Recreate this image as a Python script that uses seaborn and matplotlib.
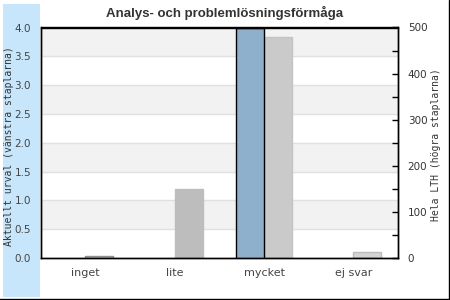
import matplotlib
matplotlib.use("Agg")
import matplotlib.pyplot as plt
import matplotlib.patches as mpatches
import matplotlib.lines as mlines
from matplotlib.ticker import MultipleLocator
import seaborn as sns
import pandas as pd

categories = ["inget", "lite", "mycket", "ej svar"]
aktuellt = [0, 0, 4, 0]
hela_lth = [4, 149, 480, 13]
series = ["Aktuellt urval", "Hela LTH"]
title = "Analys- och problemlösningsförmåga"
left_label = "Aktuellt urval (vänstra staplarna)"
right_label = "Hela LTH (högra staplarna)"

gray_colors = ["#c8c8c8", "#bdbdbd", "#cacaca", "#d4d4d4"]
gray_edges = ["#8f8f8f", "#bdbdbd", "#c4c4c4", "#bcbcbc"]

df_left = pd.DataFrame({"kategori": categories, "värde": aktuellt, "serie": series[0]})
df_right = pd.DataFrame({"kategori": categories, "värde": hela_lth, "serie": series[1]})

sns.set_theme(style="white")
plt.rcParams["font.family"] = ["DejaVu Sans"]

fig = plt.figure(figsize=(4.5, 3.0), dpi=100)
fig.patch.set_facecolor("white")

# blue band on the left
fig.patches.append(mpatches.Rectangle((3 / 450, 3 / 300), 37 / 450, 293 / 300,
                                      transform=fig.transFigure, facecolor="#c8e6fb",
                                      edgecolor="none", zorder=0))
# frame lines right and bottom
fig.lines.append(mlines.Line2D([448.5 / 450, 448.5 / 450], [1.5 / 300, 1], transform=fig.transFigure,
                               color="black", lw=1))
fig.lines.append(mlines.Line2D([0, 448.5 / 450], [1.5 / 300, 1.5 / 300], transform=fig.transFigure,
                               color="black", lw=1))

ax = fig.add_axes([40.7 / 450, 42 / 300, 357.3 / 450, 230.5 / 300])
ax2 = ax.twinx()
ax.set_ylim(0, 4)
ax2.set_ylim(0, 500)
ax.set_zorder(ax2.get_zorder() + 1)
ax.patch.set_visible(False)
ax2.patch.set_visible(True)
ax2.patch.set_facecolor("white")

sns.barplot(data=df_left, x="kategori", y="värde", hue="serie", hue_order=series,
            order=categories, palette=["#8eb0cc", "#c8c8c8"], saturation=1, width=0.627,
            dodge=True, edgecolor="black", linewidth=1, ax=ax, legend=False, zorder=2)
sns.barplot(data=df_right, x="kategori", y="värde", hue="serie", hue_order=series,
            order=categories, palette=["#8eb0cc", "#c8c8c8"], saturation=1, width=0.627,
            dodge=True, linewidth=1, ax=ax2, legend=False, zorder=2)
for p in ax.patches:
    if p.get_height() == 0:
        p.set_visible(False)
right_bars = list(ax2.patches)
for p, fc, ec in zip(right_bars, gray_colors, gray_edges):
    p.set_facecolor(fc)
    p.set_edgecolor(ec)

# background bands on the back axes (in left-axis units via blended transform)
ax.set_ylim(0, 4)
ax2.set_ylim(0, 500)
ax.set_xlim(-0.5, 3.5)
band_tf = ax.get_yaxis_transform()
for i in range(8):
    lo = i * 0.5
    if i % 2 == 1:
        ax2.add_patch(mpatches.Rectangle((0, lo), 1, 0.5, transform=band_tf,
                                         facecolor="#f2f2f2", edgecolor="none", zorder=0))
    ax2.add_line(mlines.Line2D([0, 1], [lo + 0.5, lo + 0.5], transform=band_tf,
                               color="#e0e0e0", lw=1, zorder=0.5))

ax.set_yticks([i * 0.5 for i in range(9)])
ax.set_yticklabels([f"{i * 0.5:.1f}" for i in range(9)])
ax.tick_params(axis="y", length=0, pad=7, labelsize=7.5, labelcolor="#444444")
ax.tick_params(axis="x", length=0, pad=7, labelsize=8, labelcolor="#444444")
ax.set_xlabel("")
ax.set_ylabel(left_label, family="DejaVu Sans Mono", fontsize=7, color="#333333")
ax.yaxis.set_label_coords(-0.075, 0.486)

ax2.yaxis.set_major_locator(MultipleLocator(100))
ax2.yaxis.set_minor_locator(MultipleLocator(50))
ax2.tick_params(axis="y", which="both", direction="in", length=4, width=1, color="black",
                right=True, pad=7, labelsize=7.5, labelcolor="#333333")
ax2.set_ylabel(right_label, family="DejaVu Sans Mono", fontsize=7, color="#333333")
ax2.yaxis.set_label_coords(1.092, 0.49)
ax2.set_xlabel("")

for a in (ax, ax2):
    for s in a.spines.values():
        s.set_visible(True)
        s.set_color("black")
        s.set_linewidth(1)

fig.text(225 / 450, 1 - 13 / 300, title, ha="center", va="center", fontsize=9.5,
         fontweight="bold", color="#333333", family="Liberation Sans")

fig.savefig("out.png", dpi=100)
